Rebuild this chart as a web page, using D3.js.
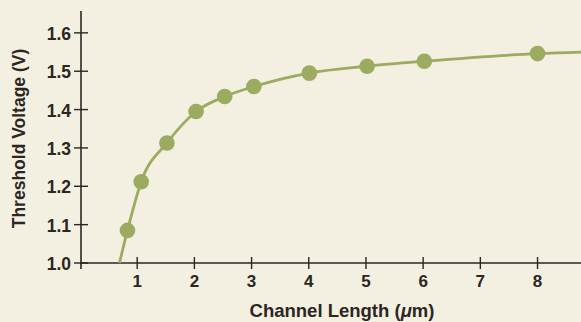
<!DOCTYPE html>
<html>
<head>
<meta charset="utf-8">
<script src="https://cdn.jsdelivr.net/npm/d3@7"></script>
<style>
  html, body { margin: 0; padding: 0; background: #f3efe1; }
  svg { display: block; }
  text { font-family: "Liberation Sans", Arial, sans-serif; font-weight: bold; fill: #2b2622; }
</style>
</head>
<body>
<div id="chart"></div>
<script>
// measured points (channel length in um, threshold voltage in V)
var lengths = [0.83, 1.07, 1.52, 2.03, 2.53, 3.04, 4.01, 5.02, 6.02, 8.0];
var voltages = [1.085, 1.212, 1.313, 1.395, 1.434, 1.46, 1.495, 1.513, 1.526, 1.546];
// fitted curve drawn through the points
var curveX = [0.69, 0.83, 1.07, 1.52, 2.03, 2.53, 3.04, 4.01, 5.02, 6.02, 8.0, 8.8];
var curveY = [1.0, 1.085, 1.212, 1.313, 1.395, 1.434, 1.46, 1.495, 1.513, 1.526, 1.546, 1.55];
var xTicks = [1, 2, 3, 4, 5, 6, 7, 8];
var yTicks = [1.0, 1.1, 1.2, 1.3, 1.4, 1.5, 1.6];

var W = 581, H = 322;
var green = '#9bab60';
var ink = '#2b2622';

var svg = d3.select('#chart').append('svg')
  .attr('width', W)
  .attr('height', H);

var x = d3.scaleLinear().domain([0, 8.76]).range([80, 581]);
var y = d3.scaleLinear().domain([1.0, 1.657]).range([263, 11]);

// x axis
var gx = svg.append('g').attr('transform', 'translate(0,263)');
gx.append('line')
  .attr('x1', x(0)).attr('x2', W)
  .attr('stroke', ink).attr('stroke-width', 1.6);
gx.selectAll('line.tick').data(xTicks).enter().append('line')
  .attr('class', 'tick')
  .attr('x1', function (d) { return x(d); })
  .attr('x2', function (d) { return x(d); })
  .attr('y1', -6).attr('y2', 6)
  .attr('stroke', ink).attr('stroke-width', 1.4);
gx.selectAll('text').data(xTicks).enter().append('text')
  .attr('x', function (d) { return x(d); })
  .attr('y', 24)
  .attr('text-anchor', 'middle')
  .style('font-size', '17px')
  .text(function (d) { return d; });

// y axis
var gy = svg.append('g').attr('transform', 'translate(81,0)');
gy.append('line')
  .attr('y1', y(1.657)).attr('y2', y(1.0) + 6)
  .attr('stroke', ink).attr('stroke-width', 1.6);
gy.selectAll('line.tick').data(yTicks).enter().append('line')
  .attr('class', 'tick')
  .attr('y1', function (d) { return y(d); })
  .attr('y2', function (d) { return y(d); })
  .attr('x1', -7).attr('x2', 7)
  .attr('stroke', ink).attr('stroke-width', 1.4);
gy.selectAll('text').data(yTicks).enter().append('text')
  .attr('x', -10)
  .attr('y', function (d) { return y(d) + 7; })
  .attr('text-anchor', 'end')
  .style('font-size', '17.5px')
  .text(function (d) { return d.toFixed(1); });

// axis titles
var xt = svg.append('text')
  .attr('x', 342)
  .attr('y', 316.5)
  .attr('text-anchor', 'middle')
  .style('font-size', '18.5px');
xt.append('tspan').text('Channel Length (');
xt.append('tspan').style('font-style', 'italic').text('\u03bc');
xt.append('tspan').text('m)');

svg.append('text')
  .attr('transform', 'translate(25,138.5) rotate(-90)')
  .attr('text-anchor', 'middle')
  .style('font-size', '17.5px')
  .text('Threshold Voltage (V)');

// curve
var line = d3.line()
  .x(function (d) { return x(d[0]); })
  .y(function (d) { return y(d[1]); })
  .curve(d3.curveMonotoneX);

svg.append('path')
  .datum(d3.zip(curveX, curveY))
  .attr('d', line)
  .attr('fill', 'none')
  .attr('stroke', green)
  .attr('stroke-width', 2.8);

// points
svg.selectAll('circle.pt').data(d3.zip(lengths, voltages)).enter().append('circle')
  .attr('class', 'pt')
  .attr('cx', function (d) { return x(d[0]); })
  .attr('cy', function (d) { return y(d[1]); })
  .attr('r', 7.8)
  .attr('fill', green);
</script>
</body>
</html>
